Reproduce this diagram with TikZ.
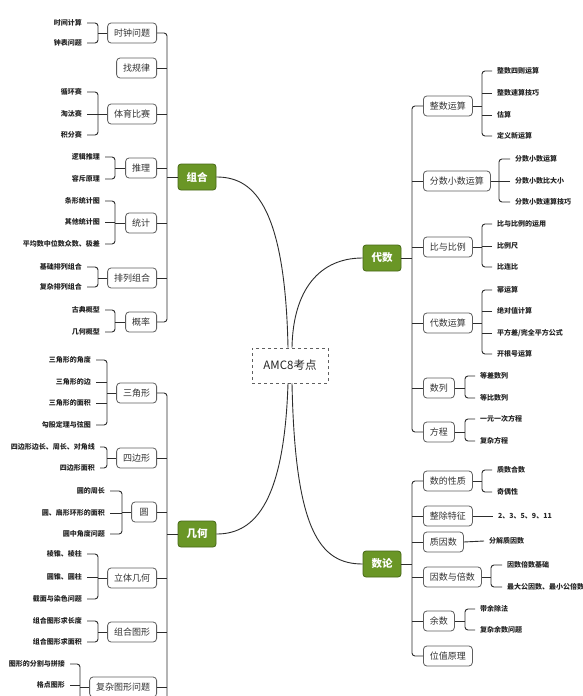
\documentclass[tikz,border=0pt]{standalone}
\usepackage{fontspec}
\setmainfont{Noto Sans CJK SC}
\definecolor{grn}{RGB}{106,150,38}
\definecolor{grnd}{RGB}{70,104,22}
\definecolor{lnc}{RGB}{45,45,45}
\definecolor{bdc}{RGB}{95,95,95}
\newcommand\brL[4]{\draw[conn,rc] (#3.east) -- (#3.east -| #2) -- (#4.east -| #2) -- (#4.east);
  \draw[conn] (#1.west) -- (#1.west -| #2);}
\newcommand\brR[4]{\draw[conn,rc] (#3.west) -- (#3.west -| #2) -- (#4.west -| #2) -- (#4.west);
  \draw[conn] (#1.east) -- (#1.east -| #2);}
\newcommand\mdL[2]{\draw[conn] (#1.east) -- (#1.east -| #2);}
\newcommand\mdR[2]{\draw[conn] (#1.west) -- (#1.west -| #2);}
\begin{document}
\begin{tikzpicture}[x=1pt,y=-1pt,
  conn/.style={draw=lnc,line width=0.9pt},
  rc/.style={rounded corners=3pt},
  rootbox/.style={draw=bdc,dashed,line width=0.7pt,minimum width=76pt,minimum height=35pt,inner sep=0pt,font=\fontsize{11.5}{13}\selectfont,text=black!85},
  cat/.style={draw=grnd,fill=grn,rounded corners=3pt,line width=0.8pt,minimum width=38pt,minimum height=26pt,inner sep=0pt,text=white,font=\bfseries\fontsize{10.5}{12}\selectfont},
  sub/.style={draw=bdc,fill=white,rounded corners=3.5pt,line width=0.8pt,minimum height=20pt,minimum width=25pt,inner xsep=6.5pt,inner ysep=0pt,font=\fontsize{9}{10}\selectfont,text=black!80},
  subL/.style={sub,anchor=east},
  subR/.style={sub,anchor=west},
  leaf/.style={inner xsep=5pt,inner ysep=0pt,font=\bfseries\fontsize{7}{8}\selectfont,text=black!85},
  leafL/.style={leaf,anchor=east},
  leafR/.style={leaf,anchor=west}]
\useasboundingbox (0,0) rectangle (583,696);
\fill[white] (0,0) rectangle (583,696);

% main nodes
\node[rootbox] (root) at (290,365.5) {AMC8考点};
\node[cat] (zh) at (197,177) {组合};
\node[cat] (jh) at (197,534) {几何};
\node[cat] (ds) at (382,258) {代数};
\node[cat] (sl) at (382,564) {数论};

% root curves
\draw[conn] ([xshift=-2pt]root.north) .. controls +(-3,-148) and +(34,0) .. (zh.east);
\draw[conn] ([xshift=2pt]root.north) .. controls +(1,-58) and +(-43,0) .. (ds.west);
\draw[conn] ([xshift=-2pt]root.south) .. controls +(-4,127) and +(34,0) .. (jh.east);
\draw[conn] ([xshift=2pt]root.south) .. controls +(3,147) and +(-43,0) .. (sl.west);

% ---------- 组合 ----------
\node[subL] (c1) at (157,33) {时钟问题};
\node[subL] (c2) at (157,68) {找规律};
\node[subL] (c3) at (157,114) {体育比赛};
\node[subL] (c4) at (157,168) {推理};
\node[subL] (c5) at (157,223) {统计};
\node[subL] (c6) at (157,278) {排列组合};
\node[subL] (c7) at (157,322) {概率};
\draw[conn,rc] (c1.east) -- ++(10,0) |- (c7.east);
\foreach \n in {c2,c3,c4,c5,c6} {\draw[conn] (\n.east) -- ++(10,0);}
\draw[conn] (zh.west) -- ++(-11,0);

\node[leafL] (c1a) at (87,23) {时间计算};
\node[leafL] (c1b) at (87,43) {钟表问题};
\node[leafL] (c3a) at (87,92) {循环赛};
\node[leafL] (c3b) at (87,114) {淘汰赛};
\node[leafL] (c3c) at (87,135) {积分赛};
\node[leafL] (c4a) at (105,157) {逻辑推理};
\node[leafL] (c4b) at (105,179) {容斥原理};
\node[leafL] (c5a) at (105,201) {条形统计图};
\node[leafL] (c5b) at (105,222) {其他统计图};
\node[leafL] (c5c) at (105,244) {平均数中位数众数、极差};
\node[leafL] (c6a) at (87,267) {基础排列组合};
\node[leafL] (c6b) at (87,287) {复杂排列组合};
\node[leafL] (c7a) at (105,310) {古典概型};
\node[leafL] (c7b) at (105,332) {几何概型};
\coordinate (ck1) at (98,0);
\coordinate (ck3) at (98,0);
\coordinate (ck4) at (115,0);
\coordinate (ck5) at (115,0);
\coordinate (ck6) at (98,0);
\coordinate (ck7) at (115,0);
\brL{c1}{ck1}{c1a}{c1b}
\brL{c3}{ck3}{c3a}{c3c} \mdL{c3b}{ck3}
\brL{c4}{ck4}{c4a}{c4b}
\brL{c5}{ck5}{c5a}{c5c} \mdL{c5b}{ck5}
\brL{c6}{ck6}{c6a}{c6b}
\brL{c7}{ck7}{c7a}{c7b}

% ---------- 几何 ----------
\node[subL] (g1) at (157,393) {三角形};
\node[subL] (g2) at (157,458) {四边形};
\node[subL] (g3) at (157,512) {圆};
\node[subL] (g4) at (157,578) {立体几何};
\node[subL] (g5) at (157,632) {组合图形};
\node[subL] (g6) at (157,687) {复杂图形问题};
\coordinate (gend) at (167,700);
\draw[conn,rc] (g1.east) -- ++(10,0) -- (gend);
\foreach \n in {g2,g3,g4,g5,g6} {\draw[conn] (\n.east) -- ++(10,0);}
\draw[conn] (jh.west) -- ++(-11,0);

\node[leafL] (g1a) at (96,360) {三角形的角度};
\node[leafL] (g1b) at (96,382) {三角形的边};
\node[leafL] (g1c) at (96,403) {三角形的面积};
\node[leafL] (g1d) at (96,425) {勾股定理与弦图};
\node[leafL] (g2a) at (100,447) {四边形边长、周长、对角线};
\node[leafL] (g2b) at (100,468) {四边形面积};
\node[leafL] (g3a) at (110,491) {圆的周长};
\node[leafL] (g3b) at (110,513) {圆、扇形环形的面积};
\node[leafL] (g3c) at (110,534) {圆中角度问题};
\node[leafL] (g4a) at (87,554) {棱锥、棱柱};
\node[leafL] (g4b) at (87,577) {圆锥、圆柱};
\node[leafL] (g4c) at (87,599) {截面与染色问题};
\node[leafL] (g5a) at (87,621) {组合图形求长度};
\node[leafL] (g5b) at (87,642) {组合图形求面积};
\node[leafL] (g6a) at (70,664) {图形的分割与拼接};
\node[leafL] (g6b) at (70,685) {格点图形};
\coordinate (gk1) at (107,0);
\coordinate (gk2) at (107,0);
\coordinate (gk3) at (122,0);
\coordinate (gk4) at (98,0);
\coordinate (gk5) at (98,0);
\coordinate (gk6) at (80,0);
\coordinate (gk6e) at (80,700);
\brL{g1}{gk1}{g1a}{g1d} \mdL{g1b}{gk1} \mdL{g1c}{gk1}
\brL{g2}{gk2}{g2a}{g2b}
\brL{g3}{gk3}{g3a}{g3c} \mdL{g3b}{gk3}
\brL{g4}{gk4}{g4a}{g4c} \mdL{g4b}{gk4}
\brL{g5}{gk5}{g5a}{g5b}
\draw[conn,rc] (g6a.east) -- (g6a.east -| gk6) -- (gk6e);
\mdL{g6b}{gk6}
\draw[conn] (g6.west) -- (g6.west -| gk6);

% ---------- 代数 ----------
\node[subR] (a1) at (423,106) {整数运算};
\node[subR] (a2) at (423,181) {分数小数运算};
\node[subR] (a3) at (423,247) {比与比例};
\node[subR] (a4) at (423,323) {代数运算};
\node[subR] (a5) at (423,388) {数列};
\node[subR] (a6) at (423,432) {方程};
\draw[conn,rc] (a1.west) -- ++(-11,0) |- (a6.west);
\foreach \n in {a2,a3,a4,a5} {\draw[conn] (\n.west) -- ++(-11,0);}
\draw[conn] (ds.east) -- ++(11,0);

\node[leafR] (a1a) at (492,71) {整数四则运算};
\node[leafR] (a1b) at (492,93) {整数速算技巧};
\node[leafR] (a1c) at (492,115) {估算};
\node[leafR] (a1d) at (492,136) {定义新运算};
\node[leafR] (a2a) at (510,159) {分数小数运算};
\node[leafR] (a2b) at (510,181) {分数小数比大小};
\node[leafR] (a2c) at (510,202) {分数小数速算技巧};
\node[leafR] (a3a) at (492,224) {比与比例的运用};
\node[leafR] (a3b) at (492,246) {比例尺};
\node[leafR] (a3c) at (492,267) {比连比};
\node[leafR] (a4a) at (492,290) {幂运算};
\node[leafR] (a4b) at (492,311) {绝对值计算};
\node[leafR] (a4c) at (492,333) {平方差/完全平方公式};
\node[leafR] (a4d) at (492,354) {开根号运算};
\node[leafR] (a5a) at (475,376) {等差数列};
\node[leafR] (a5b) at (475,398) {等比数列};
\node[leafR] (a6a) at (475,419) {一元一次方程};
\node[leafR] (a6b) at (475,441) {复杂方程};
\coordinate (ak1) at (482,0);
\coordinate (ak2) at (499,0);
\coordinate (ak3) at (482,0);
\coordinate (ak4) at (482,0);
\coordinate (ak5) at (465,0);
\coordinate (ak6) at (465,0);
\brR{a1}{ak1}{a1a}{a1d} \mdR{a1b}{ak1} \mdR{a1c}{ak1}
\brR{a2}{ak2}{a2a}{a2c} \mdR{a2b}{ak2}
\brR{a3}{ak3}{a3a}{a3c} \mdR{a3b}{ak3}
\brR{a4}{ak4}{a4a}{a4d} \mdR{a4b}{ak4} \mdR{a4c}{ak4}
\brR{a5}{ak5}{a5a}{a5b}
\brR{a6}{ak6}{a6a}{a6b}

% ---------- 数论 ----------
\node[subR] (n1) at (423,481) {数的性质};
\node[subR] (n2) at (423,516) {整除特征};
\node[subR] (n3) at (423,542) {质因数};
\node[subR] (n4) at (423,577) {因数与倍数};
\node[subR] (n5) at (423,621) {余数};
\node[subR] (n6) at (423,656) {位值原理};
\draw[conn,rc] (n1.west) -- ++(-11,0) |- (n6.west);
\foreach \n in {n2,n3,n4,n5} {\draw[conn] (\n.west) -- ++(-11,0);}
\draw[conn] (sl.east) -- ++(11,0);

\node[leafR] (n1a) at (492,470) {质数合数};
\node[leafR] (n1b) at (492,492) {奇偶性};
\node[leafR] (n2a) at (493,516) {2、3、5、9、11};
\node[leafR] (n3a) at (484,541) {分解质因数};
\node[leafR] (n4a) at (502,565) {因数倍数基础};
\node[leafR] (n4b) at (502,587) {最大公因数、最小公倍数};
\node[leafR] (n5a) at (475,609) {带余除法};
\node[leafR] (n5b) at (475,630) {复杂余数问题};
\coordinate (nk1) at (482,0);
\coordinate (nk4) at (491,0);
\coordinate (nk5) at (465,0);
\brR{n1}{nk1}{n1a}{n1b}
\draw[conn] (n2.east) -- (n2a.west);
\draw[conn] (n3.east) -- (n3a.west);
\brR{n4}{nk4}{n4a}{n4b}
\brR{n5}{nk5}{n5a}{n5b}
\end{tikzpicture}
\end{document}
